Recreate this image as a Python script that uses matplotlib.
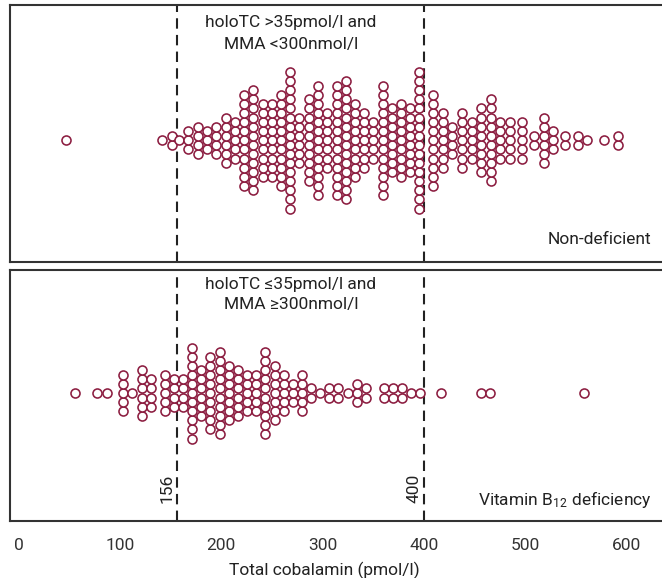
import matplotlib
matplotlib.use("Agg")
import matplotlib.pyplot as plt
import numpy as np

# ---------------- data ----------------
# Non-deficient group: column positions (pmol/l) and number of stacked dots
top_x = [46.5, 141.2, 151.1, 158.6, 167.5, 176.7, 185.9, 195.1, 204.3, 213.5,
         222.7, 231.6, 240.8, 249.7, 258.9, 267.8, 276.9, 286.2, 295.1, 304.2,
         313.8, 323.0, 331.9, 341.0, 349.9, 359.2, 368.0, 377.2, 386.4, 395.3,
         408.5, 418.3, 427.8, 437.1, 446.9, 456.4, 466.0, 475.2, 485.0, 496.8,
         508.4, 518.2, 527.4, 538.9, 551.5, 560.4, 577.7, 590.9]
top_n = [1, 1, 2, 1, 3, 4, 3, 4, 6, 5,
         11, 12, 9, 9, 11, 16, 6, 10, 13, 7,
         13, 14, 9, 7, 5, 13, 8, 9, 8, 16,
         11, 7, 4, 7, 5, 8, 10, 5, 5, 5,
         2, 6, 3, 2, 2, 1, 1, 2]

# Vitamin B12 deficiency group
bot_x = [55.4, 77.1, 87.6, 103.1, 112.2, 121.8, 131.0, 144.2, 153.1, 161.9,
         171.1, 180.3, 189.2, 198.4, 207.3, 216.5, 225.3, 234.5, 243.4, 252.7,
         261.8, 270.4, 279.3, 288.5, 297.3, 306.5, 315.4, 324.7, 333.5, 342.7,
         360.5, 369.3, 378.2, 386.8, 395.7, 416.7, 456.1, 465.3, 557.4]
bot_n = [1, 1, 1, 5, 1, 6, 4, 5, 4, 4,
         11, 6, 9, 10, 7, 6, 5, 5, 10, 7,
         5, 3, 5, 2, 1, 2, 2, 1, 3, 2,
         2, 2, 2, 1, 1, 1, 1, 1, 1]

cutoffs = [156, 400]
xticks = [0, 100, 200, 300, 400, 500, 600]
top_labels = ["holoTC >35pmol/l and", "MMA <300nmol/l"]
bot_labels = ["holoTC \u226435pmol/l and", "MMA \u2265300nmol/l"]
top_group = "Non-deficient"
bot_group = "Vitamin B$\\mathregular{_{12}}$ deficiency"
xlabel = "Total cobalamin (pmol/l)"

# ---------------- style ----------------
W, H = 662, 578
FONT = ["Roboto", "DejaVu Sans"]
plt.rcParams['font.family'] = FONT
plt.rcParams['mathtext.fontset'] = 'custom'
plt.rcParams['mathtext.rm'] = 'Roboto'
DOT = "#8c1d40"
TXT = "#222222"
SPINE = "#333333"

fig = plt.figure(figsize=(W / 100, H / 100), dpi=100)

def fx(px):
    return px / W

def fy(py):
    return 1 - py / H

step = 9.1  # px per dot row

ax_top = fig.add_axes([fx(10), fy(262), 1 - fx(10), (262 - 5) / H])
ax_bot = fig.add_axes([fx(10), fy(521), 1 - fx(10), (521 - 270) / H])

xlim = (-8.4, 634.6)

def expand(xs, ns):
    px, py = [], []
    for x, n in zip(xs, ns):
        for i in range(n):
            px.append(x)
            py.append(i - (n - 1) / 2)
    return px, py

for ax, xs, ns, center_px, top_px, bot_px in [
        (ax_top, top_x, top_n, 140.3, 5, 262),
        (ax_bot, bot_x, bot_n, 393.0, 270, 521)]:
    px, py = expand(xs, ns)
    ax.plot(px, py, 'o', ms=6.5, mew=1.15, mfc='white', mec=DOT,
            linestyle='none', zorder=3)
    ax.set_xlim(*xlim)
    ax.set_ylim(-(bot_px - center_px) / step, (center_px - top_px) / step)
    for c in cutoffs:
        ax.axvline(c, color='#222222', lw=1.5, dashes=(5, 3), zorder=2)
    ax.set_yticks([])
    for s in ['left', 'top', 'bottom']:
        ax.spines[s].set_color(SPINE)
        ax.spines[s].set_linewidth(1.5)
    ax.spines['right'].set_visible(False)

ax_top.set_xticks([])
ax_bot.set_xticks(xticks)
ax_bot.set_xticklabels([str(t) for t in xticks])
ax_bot.tick_params(axis='x', length=0, pad=12, labelsize=12.5, labelcolor='#333333')

fs = 12.5
fig.text(fx(291), fy(22), top_labels[0], ha='center', va='center', fontsize=fs, color=TXT)
fig.text(fx(291), fy(44), top_labels[1], ha='center', va='center', fontsize=fs, color=TXT)
fig.text(fx(291), fy(285), bot_labels[0], ha='center', va='center', fontsize=fs, color=TXT,
         family=FONT)
fig.text(fx(291), fy(305), bot_labels[1], ha='center', va='center', fontsize=fs, color=TXT,
         family=FONT)
fig.text(fx(651), fy(240), top_group, ha='right', va='center', fontsize=fs, color=TXT)
fig.text(fx(652), fy(500), bot_group, ha='right', va='center', fontsize=fs, color=TXT)
fig.text(fx(167), fy(488), str(cutoffs[0]), ha='center', va='center', rotation=90,
         fontsize=fs, color=TXT)
fig.text(fx(414), fy(488), str(cutoffs[1]), ha='center', va='center', rotation=90,
         fontsize=fs, color=TXT)
fig.text(fx(324), fy(570), xlabel, ha='center', va='center', fontsize=fs, color=TXT)

fig.savefig("out.png", dpi=100)
